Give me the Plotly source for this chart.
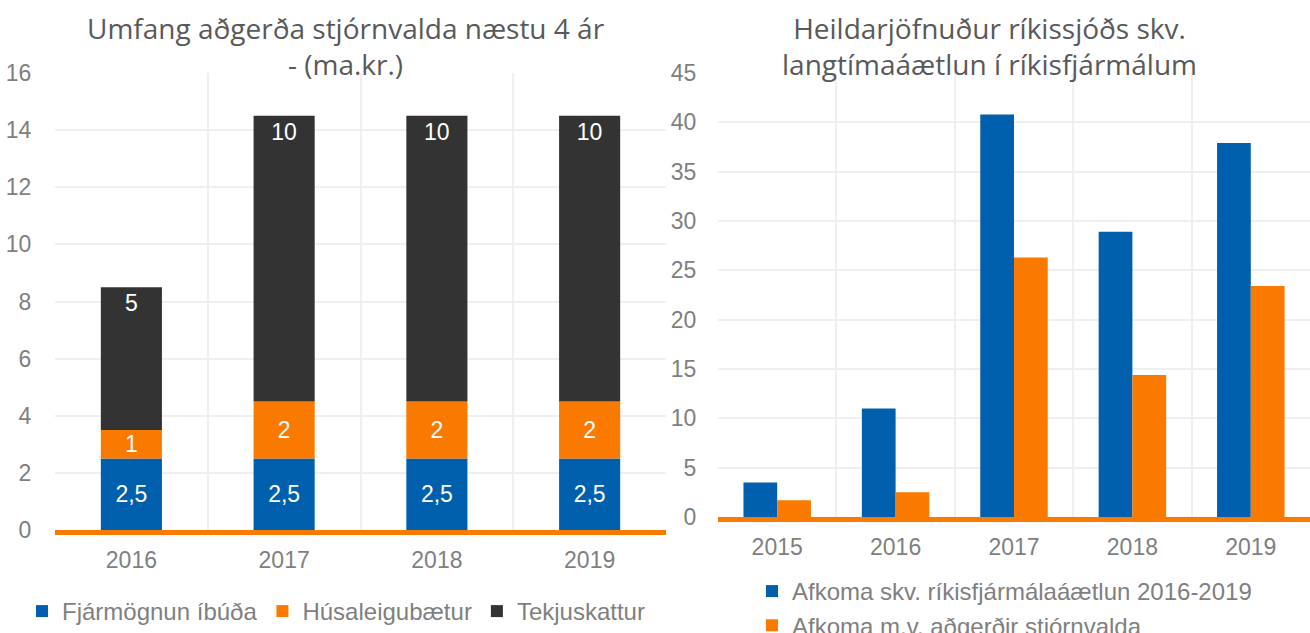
import plotly.graph_objects as go
import numpy as np

# Left chart: stacked
years_left = ["2016", "2017", "2018", "2019"]
fjarmognun = [2.5, 2.5, 2.5, 2.5]
husaleiga = [1, 2, 2, 2]
tekjuskattur = [5, 10, 10, 10]

# Right chart: grouped
years_right = ["2015", "2016", "2017", "2018", "2019"]
afkoma_aaetlun = [3.5, 11.0, 40.8, 28.9, 37.9]
afkoma_adgerdir = [1.7, 2.5, 26.3, 14.4, 23.4]

BLUE = "#0060AD"
ORANGE = "#FA7A00"
DARK = "#333333"
GRID = "#EFEFEF"
TICK = "#7F7F7F"
TITLE = "#595959"
FONT = "Liberation Sans"

W, H = 1310, 633


def fmt(v):
    s = ("%g" % v)
    return s.replace(".", ",")


base1 = np.zeros(len(years_left))
base2 = base1 + np.array(fjarmognun)
base3 = base2 + np.array(husaleiga)

fig = go.Figure()
label_font = dict(family=FONT, size=23, color="white")

fig.add_trace(go.Bar(x=years_left, y=fjarmognun, base=base1, name="Fjármögnun íbúða",
                     marker=dict(color=BLUE, line=dict(width=0)), width=0.4, offsetgroup="s",
                     text=[fmt(v) for v in fjarmognun], textposition="inside",
                     insidetextanchor="middle", textangle=0, insidetextfont=label_font,
                     constraintext="none",
                     xaxis="x", yaxis="y", legend="legend"))
fig.add_trace(go.Bar(x=years_left, y=husaleiga, base=base2, name="Húsaleigubætur",
                     marker=dict(color=ORANGE, line=dict(width=0)), width=0.4, offsetgroup="s",
                     text=[fmt(v) for v in husaleiga], textposition="inside",
                     insidetextanchor="middle", textangle=0, insidetextfont=label_font,
                     constraintext="none",
                     xaxis="x", yaxis="y", legend="legend"))
fig.add_trace(go.Bar(x=years_left, y=tekjuskattur, base=base3, name="Tekjuskattur",
                     marker=dict(color=DARK, line=dict(width=0)), width=0.4, offsetgroup="s",
                     text=[fmt(v) for v in tekjuskattur], textposition="inside",
                     insidetextanchor="end", textangle=0, insidetextfont=label_font,
                     constraintext="none",
                     xaxis="x", yaxis="y", legend="legend"))

fig.add_trace(go.Bar(x=years_right, y=afkoma_aaetlun, name="Afkoma skv. ríkisfjármálaáætlun 2016-2019",
                     marker=dict(color=BLUE, line=dict(width=0)),
                     xaxis="x2", yaxis="y2", legend="legend2"))
fig.add_trace(go.Bar(x=years_right, y=afkoma_adgerdir, name="Afkoma m.v. aðgerðir stjórnvalda",
                     marker=dict(color=ORANGE, line=dict(width=0)),
                     xaxis="x2", yaxis="y2", legend="legend2"))

tickfont = dict(family=FONT, size=23, color=TICK)
legfont = dict(family=FONT, size=24, color=TICK)

L0, L1 = 55 / W, 666 / W
R0, R1 = 718 / W, 1.0
yl0, yl1 = 1 - 530 / H, 1 - 73 / H
yr0, yr1 = 1 - 517 / H, 1 - 73 / H

xcommon = dict(type="category", tickson="boundaries",
               showgrid=True, gridcolor=GRID, gridwidth=2,
               showline=True, linecolor=ORANGE, linewidth=5,
               ticks="", ticklabelstandoff=5, tickfont=tickfont)

fig.update_layout(
    width=W, height=H,
    margin=dict(l=0, r=0, t=0, b=0, autoexpand=False),
    paper_bgcolor="white", plot_bgcolor="white",
    barmode="group", bargap=0.43, bargroupgap=0,
    font=dict(family=FONT, color=TICK),
    xaxis=dict(domain=[L0, L1], anchor="y", **xcommon),
    yaxis=dict(domain=[yl0, yl1], anchor="x", range=[0, 16], dtick=2,
               showgrid=True, gridcolor=GRID, gridwidth=2, zeroline=False,
               ticks="outside", ticklen=18, tickcolor="rgba(0,0,0,0)",
               tickfont=tickfont, showline=False),
    xaxis2=dict(domain=[R0, R1], anchor="y2", **xcommon),
    yaxis2=dict(domain=[yr0, yr1], anchor="x2", range=[0, 45], dtick=5,
                showgrid=True, gridcolor=GRID, gridwidth=2, zeroline=False,
                ticks="outside", ticklen=16, tickcolor="rgba(0,0,0,0)",
                tickfont=tickfont, showline=False),
    legend=dict(orientation="h", x=22 / W, y=1 - 589 / H, xanchor="left", yanchor="top",
                font=legfont, bgcolor="rgba(0,0,0,0)", itemwidth=30, traceorder="normal"),
    legend2=dict(orientation="v", x=752 / W, y=1 - 569 / H, xanchor="left", yanchor="top",
                 font=legfont, bgcolor="rgba(0,0,0,0)", itemwidth=30, tracegroupgap=0,
                 traceorder="normal"),
    showlegend=True,
    annotations=[
        dict(text="Umfang aðgerða stjórnvalda næstu 4 ár<br>- (ma.kr.)", x=346 / W, y=1 - 7 / H,
             xref="paper", yref="paper", xanchor="center", yanchor="top", showarrow=False,
             font=dict(family="Open Sans", size=28, color=TITLE), align="center"),
        dict(text="Heildarjöfnuður ríkissjóðs skv.<br>langtímaáætlun í ríkisfjármálum", x=989 / W, y=1 - 7 / H,
             xref="paper", yref="paper", xanchor="center", yanchor="top", showarrow=False,
             font=dict(family="Open Sans", size=28, color=TITLE), align="center"),
    ],
)

fig.write_html("out.html")
